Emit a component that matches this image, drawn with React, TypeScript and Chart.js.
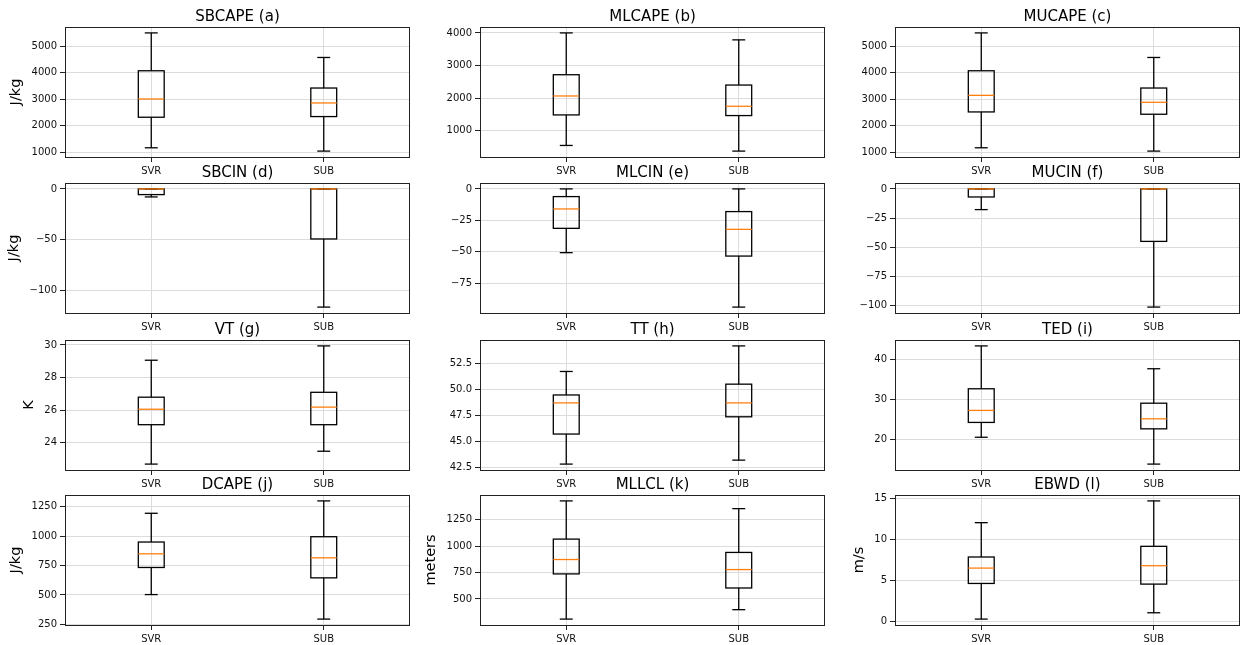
import React, { useEffect, useRef } from "react";
import { Chart, registerables } from "chart.js";

Chart.register(...registerables);

const GROUPS = ["SVR", "SUB"];

// Five-number summaries per group: [lower whisker, Q1, median, Q3, upper whisker]
const sbcape = [[1163, 2317, 3006, 4072, 5502], [1038, 2342, 2856, 3420, 4574]];
const mlcape = [[553, 1488, 2068, 2719, 4000], [380, 1468, 1753, 2403, 3787]];
const mucape = [[1163, 2517, 3144, 4072, 5502], [1038, 2430, 2881, 3420, 4574]];
const sbcin = [[-7.9, -5.6, 0, 0, 0], [-116.4, -49.3, 0, 0, 0]];
const mlcin = [[-50.6, -31.3, -15.9, -6.1, 0], [-93.8, -53.3, -32.1, -18.0, 0]];
const mucin = [[-17.7, -6.9, 0, 0, 0], [-101.1, -44.9, 0, 0, 0]];
const vt = [[22.68, 25.1, 26.05, 26.79, 29.06], [23.47, 25.1, 26.18, 27.09, 29.94]];
const tt = [[42.79, 45.68, 48.68, 49.44, 51.7], [43.17, 47.34, 48.68, 50.48, 54.16]];
const ted = [[20.5, 24.2, 27.2, 32.6, 43.3], [13.8, 22.6, 25.1, 29.0, 37.6]];
const dcape = [[503, 733, 849, 949, 1193], [295, 645, 815, 994, 1298]];
const mllcl = [[310, 737, 873, 1066, 1427], [399, 604, 778, 940, 1354]];
const ebwd = [[0.33, 4.67, 6.54, 7.89, 12.07], [1.1, 4.59, 6.83, 9.19, 14.72]];

// Panel titles, axis labels and tick steps (row by row)
const TITLES = [
  "SBCAPE (a)", "MLCAPE (b)", "MUCAPE (c)",
  "SBCIN (d)", "MLCIN (e)", "MUCIN (f)",
  "VT (g)", "TT (h)", "TED (i)",
  "DCAPE (j)", "MLLCL (k)", "EBWD (l)",
];
const YLABELS = ["J/kg", "", "", "J/kg", "", "", "K", "", "", "J/kg", "meters", "m/s"];
const STEPS = [1000, 1000, 1000, 50, 25, 25, 2, 2.5, 10, 250, 250, 5];
const DECIMALS = [0, 0, 0, 0, 0, 0, 0, 1, 0, 0, 0, 0];
const STATS = [sbcape, mlcape, mucape, sbcin, mlcin, mucin, vt, tt, ted, dcape, mllcl, ebwd];

// Grid geometry
const PLOT_LEFT = [65, 480, 895];
const PLOT_TOP = [27, 183, 340, 495];
const PLOT_W = 345;
const PLOT_H = 130;
const Y_AXIS_W = 65;
const TITLE_H = 27;
const X_AXIS_H = 26;

const FONT = "'DejaVu Sans', sans-serif";
const TICK_LEN = 5;
const TICK_PAD = 3;
const LINE_W = 1.3;

function fmt(v: number, d: number) {
  const s = Math.abs(v).toFixed(d);
  return v < -1e-9 ? "\u2212" + s : s;
}

function Panel({ idx }: { idx: number }) {
  const ref = useRef<HTMLCanvasElement>(null);
  const col = idx % 3;
  const row = Math.floor(idx / 3);
  const left = PLOT_LEFT[col] - Y_AXIS_W;
  const top = PLOT_TOP[row] - TITLE_H;
  const width = Y_AXIS_W + PLOT_W + 1;
  const height = TITLE_H + PLOT_H + X_AXIS_H;

  useEffect(() => {
    const stats = STATS[idx];
    const title = TITLES[idx];
    const ylabel = YLABELS[idx];
    const dec = DECIMALS[idx];
    const step = STEPS[idx];
    const lo = Math.min(...stats.map((s) => s[0]));
    const hi = Math.max(...stats.map((s) => s[4]));
    const margin = 0.05 * (hi - lo);
    const yMin = lo - margin;
    const yMax = hi + margin;

    const boxParts = {
      id: "boxParts",
      afterDatasetsDraw(chart: any) {
        const ctx = chart.ctx;
        const ys = chart.scales.y;
        const meta = chart.getDatasetMeta(0);
        const py = (v: number) => ys.getPixelForValue(v);
        stats.forEach((s, i) => {
          const bar = meta.data[i];
          const cx = bar.x;
          const half = bar.width / 2;
          const seg = (x1: number, y1: number, x2: number, y2: number) => {
            ctx.beginPath();
            ctx.moveTo(x1, y1);
            ctx.lineTo(x2, y2);
            ctx.stroke();
          };
          ctx.save();
          ctx.lineWidth = LINE_W;
          ctx.strokeStyle = "#000";
          // box
          ctx.strokeRect(cx - half, py(s[3]), 2 * half, py(s[1]) - py(s[3]));
          // whiskers and caps
          seg(cx, py(s[0]), cx, py(s[1]));
          seg(cx, py(s[3]), cx, py(s[4]));
          seg(cx - half / 2, py(s[0]), cx + half / 2, py(s[0]));
          seg(cx - half / 2, py(s[4]), cx + half / 2, py(s[4]));
          // median
          ctx.strokeStyle = "#ff7f0e";
          seg(cx - half, py(s[2]), cx + half, py(s[2]));
          ctx.restore();
        });
      },
      afterDraw(chart: any) {
        const ctx = chart.ctx;
        const a = chart.chartArea;
        ctx.save();
        // axes frame
        ctx.strokeStyle = "#222";
        ctx.lineWidth = 1;
        ctx.strokeRect(Math.round(a.left) + 0.5, Math.round(a.top) + 0.5,
          Math.round(a.right - a.left) - 1, Math.round(a.bottom - a.top));
        // panel title
        ctx.fillStyle = "#000";
        ctx.font = `15px ${FONT}`;
        ctx.textAlign = "center";
        ctx.textBaseline = "alphabetic";
        ctx.fillText(title, (a.left + a.right) / 2, a.top - 6);
        // y-axis label, set beside the widest tick label
        if (ylabel) {
          ctx.font = `10px ${FONT}`;
          const ys = chart.scales.y;
          let maxW = 0;
          ys.ticks.forEach((t: any) => {
            maxW = Math.max(maxW, ctx.measureText(String(t.label)).width);
          });
          const x = a.left - TICK_LEN - TICK_PAD - maxW - 8;
          ctx.font = `14.5px ${FONT}`;
          ctx.translate(x, (a.top + a.bottom) / 2);
          ctx.rotate(-Math.PI / 2);
          ctx.textAlign = "center";
          ctx.textBaseline = "bottom";
          ctx.fillText(ylabel, 0, 0);
        }
        ctx.restore();
      },
    };

    const chart = new Chart(ref.current as HTMLCanvasElement, {
      type: "bar",
      data: {
        labels: GROUPS,
        datasets: [
          {
            // boxes are stroked by the plugin; the floating bars only carry Q1..Q3
            data: stats.map((s) => [s[1], s[3]]),
            backgroundColor: "rgba(0,0,0,0)",
            borderColor: "rgba(0,0,0,0)",
            borderWidth: 0,
            categoryPercentage: 1,
            barPercentage: 0.15,
          } as any,
        ],
      },
      options: {
        responsive: false,
        animation: false,
        events: [],
        layout: { padding: { left: 0, top: TITLE_H, right: 1, bottom: 0 } },
        plugins: {
          legend: { display: false },
          tooltip: { enabled: false },
          title: { display: false },
        },
        scales: {
          x: {
            type: "category",
            offset: true,
            grid: {
              offset: false,
              color: "#dcdcdc",
              lineWidth: 1,
              drawTicks: true,
              tickLength: TICK_LEN,
              tickColor: "#222",
            },
            border: { display: false },
            ticks: {
              color: "#111",
              font: { family: FONT, size: 10 },
              padding: 3,
              maxRotation: 0,
              autoSkip: false,
            },
            afterFit: (s: any) => {
              s.height = X_AXIS_H;
            },
          },
          y: {
            type: "linear",
            min: yMin,
            max: yMax,
            grid: {
              color: "#dcdcdc",
              lineWidth: 1,
              drawTicks: true,
              tickLength: TICK_LEN,
              tickColor: "#222",
            },
            border: { display: false },
            ticks: {
              color: "#111",
              font: { family: FONT, size: 10 },
              padding: TICK_PAD,
              autoSkip: false,
              callback: (v: any) => fmt(Number(v), dec),
            },
            afterBuildTicks: (s: any) => {
              const ticks: { value: number }[] = [];
              for (let k = Math.ceil(yMin / step - 1e-9); k * step <= yMax + 1e-9; k++) {
                ticks.push({ value: +(k * step).toFixed(6) });
              }
              s.ticks = ticks;
            },
            afterFit: (s: any) => {
              s.width = Y_AXIS_W;
            },
          },
        },
      } as any,
      plugins: [boxParts],
    });
    return () => chart.destroy();
  }, [idx]);

  return (
    <canvas
      ref={ref}
      width={width}
      height={height}
      style={{ position: "absolute", left, top, width, height }}
    />
  );
}

export default function App() {
  return (
    <div
      style={{
        position: "absolute",
        left: 0,
        top: 0,
        width: 1241,
        height: 645,
        background: "#fff",
        overflow: "hidden",
      }}
    >
      {TITLES.map((_, i) => (
        <Panel key={i} idx={i} />
      ))}
    </div>
  );
}
